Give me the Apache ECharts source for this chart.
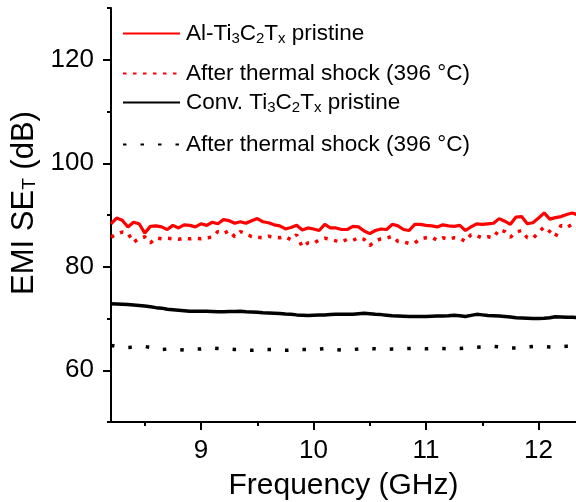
<!DOCTYPE html>
<html>
<head>
<meta charset="utf-8">
<script src="https://cdn.jsdelivr.net/npm/echarts@6/dist/echarts.min.js"></script>
<style>
  html, body { margin: 0; padding: 0; background: #fff; }
  #chart { width: 576px; height: 502px; }
</style>
</head>
<body>
<div id="chart"></div>
<script>
// frequency grid (GHz), 8.20 ... 12.40 step 0.05
var freq = [8.20,8.25,8.30,8.35,8.40,8.45,8.50,8.55,8.60,8.65,8.70,8.75,8.80,8.85,8.90,8.95,
  9.00,9.05,9.10,9.15,9.20,9.25,9.30,9.35,9.40,9.45,9.50,9.55,9.60,9.65,9.70,9.75,9.80,9.85,9.90,9.95,
  10.00,10.05,10.10,10.15,10.20,10.25,10.30,10.35,10.40,10.45,10.50,10.55,10.60,10.65,10.70,10.75,10.80,10.85,10.90,10.95,
  11.00,11.05,11.10,11.15,11.20,11.25,11.30,11.35,11.40,11.45,11.50,11.55,11.60,11.65,11.70,11.75,11.80,11.85,11.90,11.95,
  12.00,12.05,12.10,12.15,12.20,12.25,12.30,12.35,12.40];

// Al-Ti3C2Tx pristine
var alPristine = [88.3,89.4,89.0,87.7,88.6,88.3,86.5,87.8,87.9,87.7,87.2,88.0,87.5,88.1,88.0,87.7,
  88.3,88.0,88.6,88.3,89.1,88.9,88.4,88.7,88.4,88.9,89.3,88.7,88.5,88.1,87.9,87.3,87.6,88.0,87.1,87.5,
  87.3,87.0,88.2,87.5,87.5,87.2,87.2,87.8,87.7,86.9,86.4,87.0,87.3,87.2,88.2,87.9,87.2,87.0,88.2,88.2,
  88.0,87.9,87.7,88.1,87.9,87.8,88.0,87.0,87.7,88.3,88.2,88.3,88.4,89.3,88.8,88.2,89.6,89.7,88.3,88.5,
  89.4,90.4,89.2,89.5,89.7,90.1,90.4,90.0,89.8];

// Al-Ti3C2Tx after thermal shock
var alShock = [85.7,86.3,86.7,86.5,84.7,85.5,85.8,84.6,85.6,85.4,85.5,85.4,85.3,85.5,85.4,85.5,
  85.4,85.6,85.7,86.8,86.4,87.0,85.8,86.8,86.4,85.8,85.7,85.6,85.9,85.7,85.6,85.8,85.2,86.2,83.8,84.6,
  84.5,85.2,85.5,85.3,85.0,84.8,85.3,85.1,85.6,85.3,84.1,85.0,85.4,85.5,85.9,84.9,84.8,84.5,84.6,85.4,
  85.6,85.7,85.1,85.6,85.3,85.6,85.5,84.9,86.2,86.0,85.6,85.8,85.6,87.2,86.8,85.7,86.7,87.0,85.6,85.5,
  86.6,87.7,86.8,85.8,88.0,87.6,88.2,87.8,87.9];

// conventional Ti3C2Tx pristine
var convPristine = [72.85,72.8,72.75,72.7,72.6,72.5,72.4,72.25,72.1,72.0,71.8,71.7,71.6,71.5,71.4,71.4,
  71.4,71.4,71.35,71.3,71.3,71.35,71.35,71.4,71.3,71.25,71.2,71.1,71.05,71.0,70.95,70.85,70.8,70.7,70.65,70.6,
  70.65,70.7,70.7,70.75,70.8,70.8,70.8,70.8,70.9,71.0,70.9,70.8,70.75,70.65,70.55,70.5,70.45,70.4,70.4,70.4,
  70.4,70.45,70.5,70.5,70.55,70.65,70.55,70.4,70.6,70.8,70.7,70.6,70.55,70.5,70.4,70.3,70.15,70.1,70.05,70.0,
  70.0,70.05,70.15,70.35,70.3,70.25,70.25,70.2,70.2];

// conventional Ti3C2Tx after thermal shock
var convShock = [64.8,64.6,64.4,64.4,64.45,64.5,64.6,64.4,64.0,64.0,64.1,64.1,64.0,63.9,64.0,64.1,
  64.1,64.2,64.3,64.2,64.1,64.1,64.0,64.0,63.9,63.85,63.9,64.0,64.0,64.0,63.9,63.85,63.9,63.9,64.0,64.0,
  64.05,64.1,64.2,64.1,64.0,63.9,63.95,64.0,64.1,64.2,64.2,64.15,64.1,64.05,64.1,64.1,64.15,64.2,64.25,64.2,
  64.15,64.2,64.25,64.2,64.15,64.2,64.2,64.3,64.4,64.45,64.5,64.55,64.6,64.5,64.35,64.3,64.3,64.4,64.5,64.6,
  64.65,64.6,64.5,64.45,64.55,64.65,64.65,64.7,64.7];

var xMajor = [9, 10, 11, 12];
var xMinor = [8.5, 9.5, 10.5, 11.5];
var yMajor = [60, 80, 100, 120];
var yMinor = [50, 70, 90, 110, 130];

var names = ['Al-Ti3C2Tx pristine', 'Al after thermal shock', 'Conv. Ti3C2Tx pristine', 'Conv after thermal shock'];
var labels = {
    'Al-Ti3C2Tx pristine': 'Al-Ti{sub|3}C{sub|2}T{sub|x} pristine',
    'Al after thermal shock': 'After thermal shock (396 °C)',
    'Conv. Ti3C2Tx pristine': 'Conv. Ti{sub|3}C{sub|2}T{sub|x} pristine',
    'Conv after thermal shock': 'After thermal shock (396 °C)'
};

function pairs(ys) {
    return freq.map(function (f, i) { return [f, ys[i]]; });
}

var FONT = '"Liberation Sans", Arial, sans-serif';
var subRich = { sub: { fontSize: 15, fontFamily: FONT, color: '#000', padding: [11, 0, 0, 0] } };

function legendAt(name, top) {
    return {
        data: [name],
        left: 122,
        top: top,
        itemWidth: 57,
        itemHeight: 6,
        itemGap: 0,
        padding: 0,
        selectedMode: false,
        itemStyle: { opacity: 0 },
        formatter: function (n) { return labels[n]; },
        textStyle: { fontSize: 22.5, fontFamily: FONT, color: '#000', padding: [0, 0, 0, 1], rich: subRich }
    };
}

var chart = echarts.init(document.getElementById('chart'));
var axisCol = '#000';

var option = {
    animation: false,
    backgroundColor: '#fff',
    grid: { left: 111, top: 8, right: 0, bottom: 80, outerBoundsMode: 'none', containLabel: false },
    legend: [
        legendAt(names[0], 22),
        legendAt(names[1], 62),
        legendAt(names[2], 91),
        legendAt(names[3], 133)
    ],
    xAxis: [
        {
            type: 'value', position: 'bottom', min: 8.2, max: 12.333,
            axisLine: { lineStyle: { color: axisCol, width: 2 } },
            axisTick: { show: true, customValues: xMajor, length: 8, lineStyle: { color: axisCol, width: 2 } },
            axisLabel: { customValues: xMajor, fontSize: 26, fontFamily: FONT, color: '#000', margin: 16 },
            splitLine: { show: false },
            name: 'Frequency (GHz)', nameLocation: 'middle', nameGap: 49,
            nameTextStyle: { fontSize: 30, fontFamily: FONT, color: '#000' }
        },
        {
            type: 'value', position: 'bottom', min: 8.2, max: 12.333,
            axisLine: { show: false },
            axisTick: { show: true, customValues: xMinor, length: 4, lineStyle: { color: axisCol, width: 2 } },
            axisLabel: { show: false },
            splitLine: { show: false }
        }
    ],
    yAxis: [
        {
            type: 'value', position: 'left', min: 50, max: 130,
            axisLine: { show: true, lineStyle: { color: axisCol, width: 2 } },
            axisTick: { show: true, customValues: yMajor, length: 8, lineStyle: { color: axisCol, width: 2 } },
            axisLabel: { customValues: yMajor, fontSize: 26, fontFamily: FONT, color: '#000', margin: 17 },
            splitLine: { show: false },
            name: 'EMI SE{sub|T} (dB)', nameLocation: 'middle', nameGap: 59, nameRotate: 90,
            nameTextStyle: {
                fontSize: 31, fontFamily: FONT, color: '#000', padding: [0, 0, 0, 24],
                rich: { sub: { fontSize: 19, fontFamily: FONT, color: '#000', padding: [12, 0, 0, 0] } }
            }
        },
        {
            type: 'value', position: 'left', min: 50, max: 130,
            axisLine: { show: false },
            axisTick: { show: true, customValues: yMinor, length: 4, lineStyle: { color: axisCol, width: 2 } },
            axisLabel: { show: false },
            splitLine: { show: false }
        }
    ],
    series: [
        {
            name: names[0], type: 'line', data: pairs(alPristine), symbol: 'none',
            lineStyle: { color: '#ff0000', width: 3.2 }, itemStyle: { color: '#ff0000' }
        },
        {
            name: names[1], type: 'line', data: pairs(alShock), symbol: 'none',
            lineStyle: { color: '#ff0000', width: 3.5, type: [3.5, 6.5] }, itemStyle: { color: '#ff0000' }
        },
        {
            name: names[2], type: 'line', data: pairs(convPristine), symbol: 'none',
            lineStyle: { color: '#000', width: 3.5 }, itemStyle: { color: '#000' }
        },
        {
            name: names[3], type: 'line', data: pairs(convShock), symbol: 'none',
            lineStyle: { color: '#000', width: 3.5, type: [3.5, 14] }, itemStyle: { color: '#000' }
        }
    ]
};
chart.setOption(option);
</script>
</body>
</html>
